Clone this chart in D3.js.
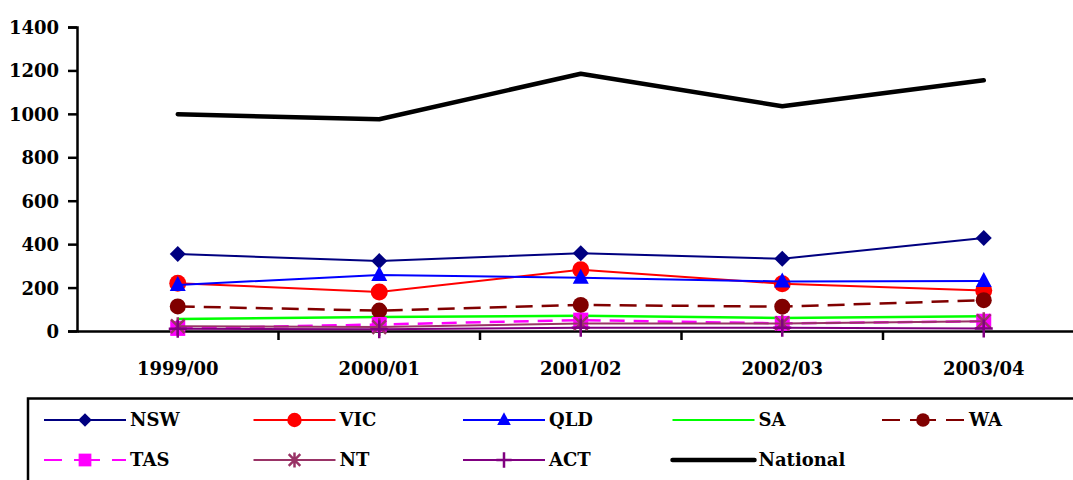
<!DOCTYPE html>
<html><head><meta charset="utf-8">
<script src="https://cdn.jsdelivr.net/npm/d3@7"></script>
<style>
html,body{margin:0;padding:0;background:#fff;overflow:hidden;}
text{font-family:"DejaVu Serif",serif;font-weight:bold;}
</style></head>
<body><svg id="c" width="1073" height="480"></svg>
<script>
const categories = ["1999/00","2000/01","2001/02","2002/03","2003/04"];
const yTicks = [0,200,400,600,800,1000,1200,1400];
const NSW = [355, 322, 358, 333, 428];
const VIC = [220, 180, 282, 218, 187];
const QLD = [212, 258, 245, 228, 230];
const SA  = [55, 65, 70, 60, 68];
const WA  = [113, 94, 120, 112, 142];
const TAS = [12, 30, 50, 35, 45];
const NT  = [22, 18, 35, 35, 45];
const ACT = [10, 8, 15, 15, 12];
const National = [998, 975, 1185, 1035, 1155];

const series = [
  {name:"NSW", values:NSW, color:"#000080", width:2, dash:null, marker:"diamond", mcolor:"#000080"},
  {name:"VIC", values:VIC, color:"#FF0000", width:2, dash:null, marker:"circleL", mcolor:"#FF0000"},
  {name:"QLD", values:QLD, color:"#0000FF", width:2, dash:null, marker:"triangle", mcolor:"#0000FF"},
  {name:"SA", values:SA, color:"#00FF00", width:2.5, dash:null, marker:null},
  {name:"WA", values:WA, color:"#800000", width:2.5, dash:"17,9", marker:"circle", mcolor:"#800000"},
  {name:"TAS", values:TAS, color:"#FF00FF", width:2.5, dash:"15,9", marker:"square", mcolor:"#FF00FF"},
  {name:"NT", values:NT, color:"#993366", width:2, dash:null, marker:"star", mcolor:"#993366"},
  {name:"ACT", values:ACT, color:"#800080", width:2, dash:null, marker:"plus", mcolor:"#800080"},
  {name:"National", values:National, color:"#000000", width:4.5, dash:null, marker:null}
];

const svg = d3.select("#c");
const mLeft = 77, mTop = 27, mBottom = 331, mRight = 1084.5;
const x = d3.scaleBand().domain(categories).range([mLeft, mRight]);
const y = d3.scaleLinear().domain([0,1400]).range([mBottom, mTop]);

// Y axis
const yAxis = svg.append("g").attr("transform",`translate(${mLeft},0)`)
  .call(d3.axisLeft(y).tickValues(yTicks).tickSize(9).tickPadding(9).tickFormat(d3.format("d")));
yAxis.select(".domain").attr("stroke","#000").attr("stroke-width",2.5);
yAxis.selectAll(".tick line").attr("stroke","#000").attr("stroke-width",2.5);
yAxis.selectAll(".tick text").attr("fill","#000").style("font-size","18px").attr("dy","0.36em");

// X axis
const xAxis = svg.append("g").attr("transform",`translate(0,${mBottom})`)
  .call(d3.axisBottom(x).tickSize(0).tickPadding(0));
xAxis.select(".domain").attr("stroke","#000").attr("stroke-width",2.5);
xAxis.selectAll(".tick text").attr("fill","#000").style("font-size","18px").attr("y",44).attr("dy",0);
// category boundary ticks
svg.append("g").selectAll("line").data(categories.slice(1)).join("line")
  .attr("x1",d=>x(d)).attr("x2",d=>x(d)).attr("y1",mBottom).attr("y2",mBottom+9)
  .attr("stroke","#000").attr("stroke-width",2.5);

function drawMarker(g, type, cx, cy, color, s){
  s = s||1;
  if(type==="diamond"){
    g.append("path").attr("d",`M${cx},${cy-8*s}L${cx+8*s},${cy}L${cx},${cy+8*s}L${cx-8*s},${cy}Z`).attr("fill",color);
  } else if(type==="circleL"){
    g.append("circle").attr("cx",cx).attr("cy",cy).attr("r",8.5*s).attr("fill",color);
  } else if(type==="circle"){
    g.append("circle").attr("cx",cx).attr("cy",cy).attr("r",8*s).attr("fill",color);
  } else if(type==="triangle"){
    g.append("path").attr("d",`M${cx},${cy-9*s}L${cx+8*s},${cy+6*s}L${cx-8*s},${cy+6*s}Z`).attr("fill",color);
  } else if(type==="square"){
    g.append("rect").attr("x",cx-7.5*s).attr("y",cy-7.5*s).attr("width",15*s).attr("height",15*s).attr("fill",color);
  } else if(type==="star"){
    const r=8.5*s;
    g.append("path").attr("d",`M${cx-r*0.8},${cy-r*0.8}L${cx+r*0.8},${cy+r*0.8}M${cx+r*0.8},${cy-r*0.8}L${cx-r*0.8},${cy+r*0.8}M${cx},${cy-r*1.05}L${cx},${cy+r*1.05}`)
      .attr("stroke",color).attr("stroke-width",2.5).attr("fill","none");
  } else if(type==="plus"){
    const r=9*s;
    g.append("path").attr("d",`M${cx-r},${cy}L${cx+r},${cy}M${cx},${cy-r}L${cx},${cy+r}`)
      .attr("stroke",color).attr("stroke-width",2.5).attr("fill","none");
  }
}

const line = d3.line().x((d,i)=>x(categories[i])+x.bandwidth()/2).y(d=>y(d));
const plot = svg.append("g");
series.forEach(s=>{
  const g = plot.append("g");
  const p = g.append("path").datum(s.values).attr("d",line).attr("fill","none")
    .attr("stroke",s.color).attr("stroke-width",s.width).attr("stroke-linejoin","round");
  if(s.name==="National") p.attr("stroke-linecap","round");
  if(s.dash) p.attr("stroke-dasharray",s.dash);
  if(s.marker){
    s.values.forEach((v,i)=>drawMarker(g,s.marker,x(categories[i])+x.bandwidth()/2,y(v),s.mcolor));
  }
});

// Legend
const leg = svg.append("g");
leg.append("rect").attr("x",28).attr("y",398.5).attr("width",1100).attr("height",120)
  .attr("fill","#fff").attr("stroke","#000").attr("stroke-width",2.5);
const colX = [44, 253.5, 463, 672.5, 882];
const rowY = [420, 460];
series.forEach((s,i)=>{
  const cx0 = colX[i%5], cy = rowY[Math.floor(i/5)];
  const g = leg.append("g");
  const ln = g.append("line").attr("x1",cx0).attr("x2",cx0+82).attr("y1",cy).attr("y2",cy)
    .attr("stroke",s.color).attr("stroke-width",s.name==="National" ? s.width : 2);
  if(s.name==="National") ln.attr("stroke-linecap","round");
  if(s.dash) ln.attr("stroke-dasharray", s.name==="WA" ? "18,10,26,10,18" : "18,12,26,12,18");
  if(s.marker) drawMarker(g,s.marker,cx0+41,cy,s.mcolor,0.85);
  g.append("text").attr("x", s.name==="WA"? cx0+87 : cx0+86).attr("y",cy).attr("dy","0.36em")
    .attr("fill","#000").style("font-size","18px").text(s.name);
});
</script></body></html>
